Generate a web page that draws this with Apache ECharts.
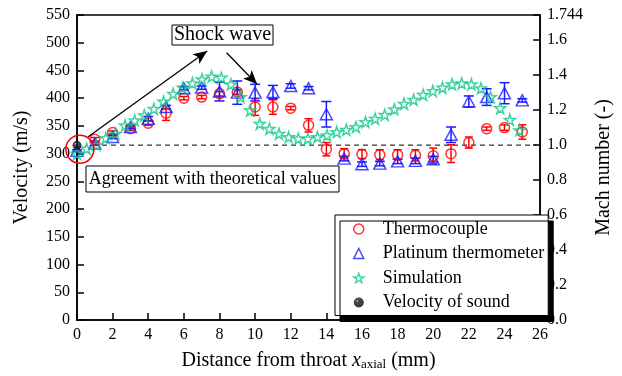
<!DOCTYPE html>
<html><head><meta charset="utf-8">
<script src="https://cdn.jsdelivr.net/npm/echarts@6/dist/echarts.min.js"></script>
<style>html,body{margin:0;padding:0;background:#fff}#c{width:622px;height:376px}</style>
</head><body><div id="c"></div>
<script>
// ---- data ----
const thermoX = [1,2,3,4,5,6,7,8,9,10,11,12,13,14,15,16,17,18,19,20,21,22,23,24,25];
const thermoV = [326,338,345,355,373,400,402,408,411,384,384,382,351,308,300,299,298,298,297,296,300,320,345,347,339];
const thermoErr = [3,3,3,4,13,3,3,4,4,15,13,3,12,12,9,8,9,9,10,14,16,10,3,5,13];
const platX = [0,1,2,3,4,5,6,7,8,9,10,11,12,13,14,15,16,17,18,19,20,21,22,23,24,25];
const platV = [305,318,330,348,363,384,418,419,412,410,410,411,422,418,371,291,281,282,286,287,290,334,394,402,409,396];
const platErr = [2,3,3,3,4,3,3,3,17,21,15,12,4,3,23,4,4,4,4,5,5,14,10,15,19,3];
const simX = [0,0.54,1.08,1.62,2.16,2.70,3.24,3.78,4.32,4.86,5.40,5.94,6.48,7.02,7.56,8.10,8.64,9.18,9.72,10.26,10.80,11.34,11.88,12.42,12.96,13.50,14.04,14.58,15.12,15.66,16.20,16.74,17.28,17.82,18.36,18.90,19.44,19.98,20.52,21.06,21.60,22.14,22.68,23.22,23.76,24.30,24.84];
const simV = [300,309,316,328,336,351,360,369,381,394,408,419,427,434,439,437,425,402,378,354,345,336,330,327,327,330,333,339,343,348,357,363,370,380,390,397,406,413,419,425,427,425,418,402,382,361,342];
const soundX = [0];
const soundV = [315];
const machOneX = [0.9, 25.8];
const machOneY = [1.0, 1.0];
const xTicks = {min:0, max:26, interval:2};
const vTicks = {min:0, max:550, interval:50};
const machTicks = {min:0, max:1.744, interval:0.2};
const arrows = [[[0.61,330],[7.31,485]], [[8.4,482],[10.11,425]]];
const circleCenter = [0.16, 308];

const FONT = '"Liberation Serif","Times New Roman",serif';
const STAR = 'path://M50,2 L61.8,37.6 L99,37.6 L69,59.5 L80.4,95 L50,73 L19.6,95 L31,59.5 L1,37.6 L38.2,37.6 Z';
const RED = '#ff0000', BLUE = '#1a1aff', GREEN = '#10c888';
const sphere = {type:'radial', x:0.35, y:0.32, r:0.7, colorStops:[{offset:0,color:'#d0d0d0'},{offset:0.18,color:'#222'},{offset:1,color:'#000'}]};

function errSeries(xs, vs, es, color, cap) {
  return {
    type:'custom', silent:true, z:3,
    encode:{x:0, y:[1,2]},
    data: xs.map((x,i)=>[x, vs[i]-es[i], vs[i]+es[i]]),
    renderItem(params, api) {
      const lo = api.coord([api.value(0), api.value(1)]);
      const hi = api.coord([api.value(0), api.value(2)]);
      const st = {stroke: color, lineWidth: 1.5};
      return {type:'group', children:[
        {type:'line', shape:{x1:lo[0],y1:lo[1],x2:hi[0],y2:hi[1]}, style:st},
        {type:'line', shape:{x1:lo[0]-cap,y1:lo[1],x2:lo[0]+cap,y2:lo[1]}, style:st},
        {type:'line', shape:{x1:hi[0]-cap,y1:hi[1],x2:hi[0]+cap,y2:hi[1]}, style:st}
      ]};
    }
  };
}

const axisCommon = {
  axisLine:{show:true, onZero:false, lineStyle:{color:'#000', width:1.5}},
  axisTick:{show:true, inside:true, length:7, lineStyle:{color:'#000', width:1.5}},
  axisLabel:{fontFamily:FONT, fontSize:16, color:'#000', margin:7},
  splitLine:{show:false}
};

const chart = echarts.init(document.getElementById('c'));
chart.setOption({
  animation:false,
  backgroundColor:'#fff',
  grid:{left:77, right:66, top:15, bottom:53, show:true, borderColor:'#000', borderWidth:1.5, backgroundColor:'transparent'},
  xAxis:Object.assign({type:'value'}, xTicks, axisCommon, {
    name:'{n|Distance from throat }{i|x}{s|axial}{n| (mm)}',
    nameLocation:'middle', nameGap:27,
    nameTextStyle:{fontFamily:FONT, color:'#000', rich:{
      n:{fontFamily:FONT, fontSize:20, color:'#000', lineHeight:24, verticalAlign:'bottom'},
      i:{fontFamily:FONT, fontSize:20, fontStyle:'italic', color:'#000', lineHeight:24, verticalAlign:'bottom'},
      s:{fontFamily:FONT, fontSize:13, color:'#000', lineHeight:13, verticalAlign:'bottom'}
    }}
  }),
  yAxis:[
    Object.assign({type:'value', position:'left'}, vTicks, axisCommon, {
      name:'Velocity (m/s)', nameLocation:'middle', nameGap:45, nameRotate:90,
      nameTextStyle:{fontFamily:FONT, fontSize:20, color:'#000'}
    }),
    Object.assign({type:'value', position:'right'}, machTicks, axisCommon, {
      axisLabel:{fontFamily:FONT, fontSize:16, color:'#000', margin:7,
        formatter:v => (Math.abs(v-1.744)<1e-6 ? '1.744' : v.toFixed(1))},
      name:'Mach number (-)', nameLocation:'middle', nameGap:38, nameRotate:90,
      nameTextStyle:{fontFamily:FONT, fontSize:20, color:'#000'}
    })
  ],
  legend:{
    orient:'vertical', left:335, top:215,
    padding:[5,4,4,18], itemGap:6.5, itemWidth:10, itemHeight:10,
    backgroundColor:'#fff', borderColor:'#000', borderWidth:1,
    shadowColor:'#000', shadowBlur:0, shadowOffsetX:5, shadowOffsetY:6,
    textStyle:{fontFamily:FONT, fontSize:18, color:'#000', padding:[0,0,0,14]},
    selectedMode:false,
    data:[
      {name:'Thermocouple', icon:'circle', itemStyle:{color:'rgba(0,0,0,0)', borderColor:RED, borderWidth:1.5}},
      {name:'Platinum thermometer', icon:'triangle', itemStyle:{color:'rgba(0,0,0,0)', borderColor:BLUE, borderWidth:1.5}},
      {name:'Simulation', icon:STAR, itemStyle:{color:'rgba(0,0,0,0)', borderColor:GREEN, borderWidth:1.4}},
      {name:'Velocity of sound', icon:'circle', itemStyle:{color:sphere, borderWidth:0}}
    ]
  },
  series:[
    {type:'line', yAxisIndex:1, data:machOneX.map((x,i)=>[x, machOneY[i]]), symbol:'none', silent:true, z:1,
     lineStyle:{color:'#000', width:1, type:[5,4]}},
    errSeries(thermoX, thermoV, thermoErr, RED, 4),
    errSeries(platX, platV, platErr, BLUE, 5),
    {name:'Thermocouple', type:'scatter', z:4, symbol:'circle', symbolSize:10,
     data:thermoX.map((x,i)=>[x, thermoV[i]]),
     itemStyle:{color:'rgba(0,0,0,0)', borderColor:RED, borderWidth:1.5}},
    {name:'Platinum thermometer', type:'scatter', z:4, symbol:'triangle', symbolSize:[12,11],
     data:platX.map((x,i)=>[x, platV[i]]),
     itemStyle:{color:'rgba(0,0,0,0)', borderColor:BLUE, borderWidth:1.5}},
    {name:'Simulation', type:'scatter', z:5, symbol:STAR, symbolSize:11,
     data:simX.map((x,i)=>[x, simV[i]]),
     itemStyle:{color:'rgba(0,0,0,0)', borderColor:GREEN, borderWidth:1.5}},
    {name:'Velocity of sound', type:'scatter', z:6, symbol:'circle', symbolSize:9,
     data:soundX.map((x,i)=>[x, soundV[i]]),
     itemStyle:{color:sphere},
     markLine:{silent:true, symbol:['none','arrow'], symbolSize:[9,14], label:{show:false},
       lineStyle:{color:'#000', width:1.3, type:'solid'},
       emphasis:{disabled:true},
       data:arrows.map(a=>[{coord:a[0]},{coord:a[1]}])}
    }
  ]
});

const cc = chart.convertToPixel({gridIndex:0}, circleCenter);
chart.setOption({graphic:[
  {type:'circle', shape:{cx:cc[0], cy:cc[1], r:14}, style:{fill:'none', stroke:RED, lineWidth:1.5}, z:100, silent:true},
  {type:'rect', shape:{x:172, y:25, width:101, height:20}, style:{fill:'#fff', stroke:'#000', lineWidth:1}, z:100},
  {type:'text', x:222.5, y:35, style:{text:'Shock wave', font:'20px '+FONT, fill:'#000', align:'center', verticalAlign:'middle'}, z:101},
  {type:'rect', shape:{x:86, y:166, width:253, height:26}, style:{fill:'#fff', stroke:'#000', lineWidth:1}, z:100},
  {type:'text', x:212.5, y:179, style:{text:'Agreement with theoretical values', font:'18px '+FONT, fill:'#000', align:'center', verticalAlign:'middle'}, z:101}
]});
</script></body></html>
